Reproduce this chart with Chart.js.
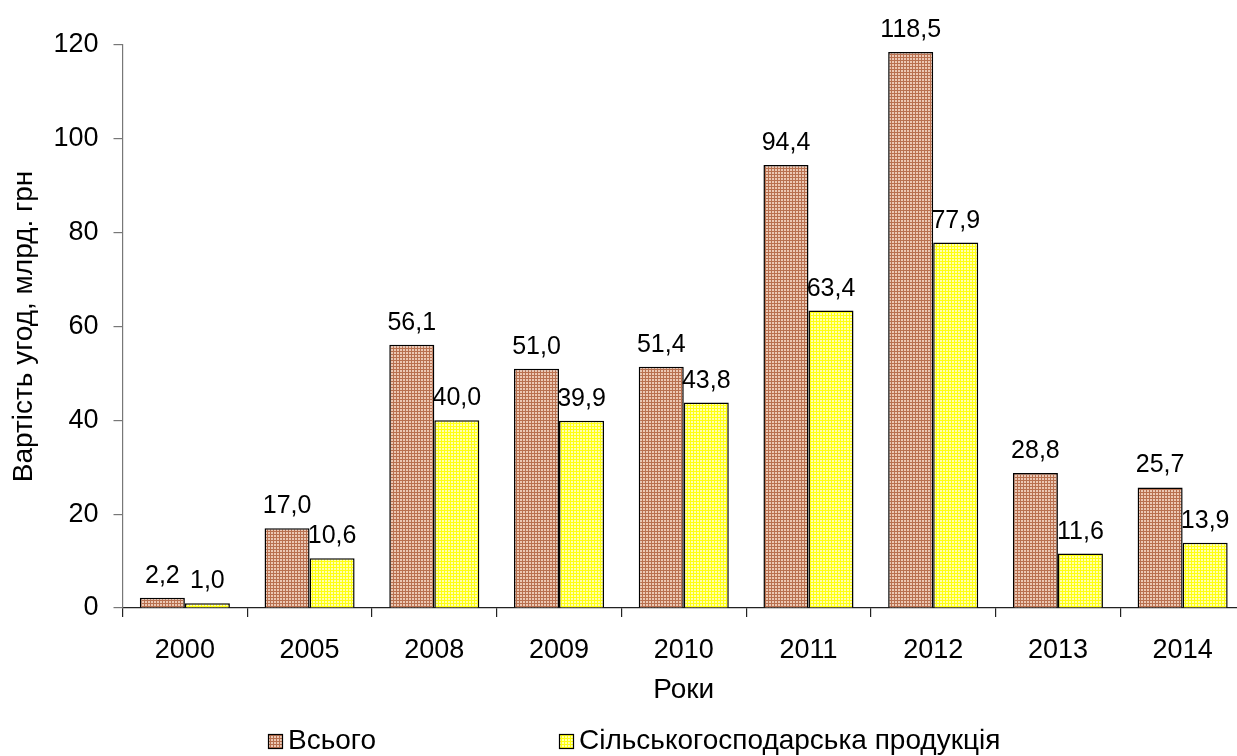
<!DOCTYPE html>
<html>
<head>
<meta charset="utf-8">
<script src="https://cdn.jsdelivr.net/npm/chart.js@4"></script>
<style>
  html, body { margin: 0; padding: 0; background: #fff; overflow: hidden; }
  #wrap { position: relative; width: 1247px; height: 756px; }
</style>
</head>
<body>
<div id="wrap"><canvas id="c"></canvas></div>
<script>
// ---- data ----
const years = ['2000', '2005', '2008', '2009', '2010', '2011', '2012', '2013', '2014'];
const totalValues = [2.2, 17.0, 56.1, 51.0, 51.4, 94.4, 118.5, 28.8, 25.7];
const agroValues = [1.0, 10.6, 40.0, 39.9, 43.8, 63.4, 77.9, 11.6, 13.9];
const seriesNames = ['Всього', 'Сільськогосподарська продукція'];
const yTitle = 'Вартість угод, млрд. грн';
const xTitle = 'Роки';

const FONT = 'Liberation Sans, Arial, sans-serif';
const canvas = document.getElementById('c');
const ctx0 = canvas.getContext('2d');

function makePattern(base, light) {
  const t = document.createElement('canvas');
  t.width = 3; t.height = 3;
  const g = t.getContext('2d');
  g.fillStyle = base; g.fillRect(0, 0, 3, 3);
  g.fillStyle = light; g.fillRect(1, 1, 2, 2);
  return ctx0.createPattern(t, 'repeat');
}
const brownPat = makePattern('#b8704f', '#ecc8b4');
const yellowPat = makePattern('#ffff10', '#ffffb0');

const fmt = v => v.toFixed(1).replace('.', ',');

const valueLabels = {
  id: 'valueLabels',
  afterDatasetsDraw(chart) {
    const ctx = chart.ctx;
    ctx.save();
    ctx.font = '25px ' + FONT;
    ctx.fillStyle = '#000';
    ctx.textAlign = 'center';
    ctx.textBaseline = 'alphabetic';
    chart.data.datasets.forEach((ds, di) => {
      chart.getDatasetMeta(di).data.forEach((bar, i) => {
        ctx.fillText(fmt(ds.data[i]), bar.x, bar.y - 15);
      });
    });
    ctx.restore();
  }
};

const customLegend = {
  id: 'customLegend',
  afterDraw(chart) {
    const ctx = chart.ctx;
    const boxLefts = [268, 559];
    const yc = 741;
    ctx.save();
    ctx.font = '28px ' + FONT;
    ctx.textBaseline = 'middle';
    ctx.textAlign = 'left';
    chart.data.datasets.forEach((ds, i) => {
      const bx = boxLefts[i];
      ctx.fillStyle = ds.backgroundColor;
      ctx.fillRect(bx, yc - 7, 15, 15);
      ctx.strokeStyle = '#000';
      ctx.lineWidth = 1.2;
      ctx.strokeRect(bx + 0.5, yc - 6.5, 14, 14);
      ctx.fillStyle = '#000';
      ctx.fillText(ds.label, bx + 20, yc);
    });
    ctx.restore();
  }
};

new Chart(canvas, {
  type: 'bar',
  data: {
    labels: years,
    datasets: [
      { label: seriesNames[0], data: totalValues, backgroundColor: brownPat, borderColor: '#000', borderWidth: 1.5 },
      { label: seriesNames[1], data: agroValues, backgroundColor: yellowPat, borderColor: '#000', borderWidth: 1.5 }
    ]
  },
  options: {
    responsive: true,
    maintainAspectRatio: false,
    animation: false,
    layout: { padding: { top: 45, right: 2, bottom: 49.4, left: 0 } },
    datasets: { bar: { categoryPercentage: 0.722, barPercentage: 1.0 } },
    plugins: {
      legend: { display: false },
      tooltip: { enabled: false }
    },
    scales: {
      x: {
        afterFit: s => { s.height = 98.6; },
        grid: { offset: true, drawOnChartArea: false, drawTicks: true, tickLength: 9, color: '#222', lineWidth: 1.2 },
        border: { display: true, color: '#222', width: 1.2 },
        ticks: { font: { size: 27, family: FONT }, color: '#000', padding: 17 },
        title: { display: true, text: xTitle, font: { size: 28, family: FONT }, color: '#000', padding: { top: 10, bottom: 0 } }
      },
      y: {
        min: 0, max: 120,
        afterFit: s => { s.width = 122.5; },
        grid: { drawOnChartArea: false, drawTicks: true, tickLength: 9, color: '#777', lineWidth: 1.2 },
        border: { display: true, color: '#777', width: 1.2 },
        ticks: { stepSize: 20, font: { size: 27, family: FONT }, color: '#000', padding: 15 },
        title: { display: true, text: yTitle, font: { size: 28, family: FONT }, color: '#000', padding: { top: 7, bottom: 0 } }
      }
    }
  },
  plugins: [valueLabels, customLegend]
});
</script>
</body>
</html>
